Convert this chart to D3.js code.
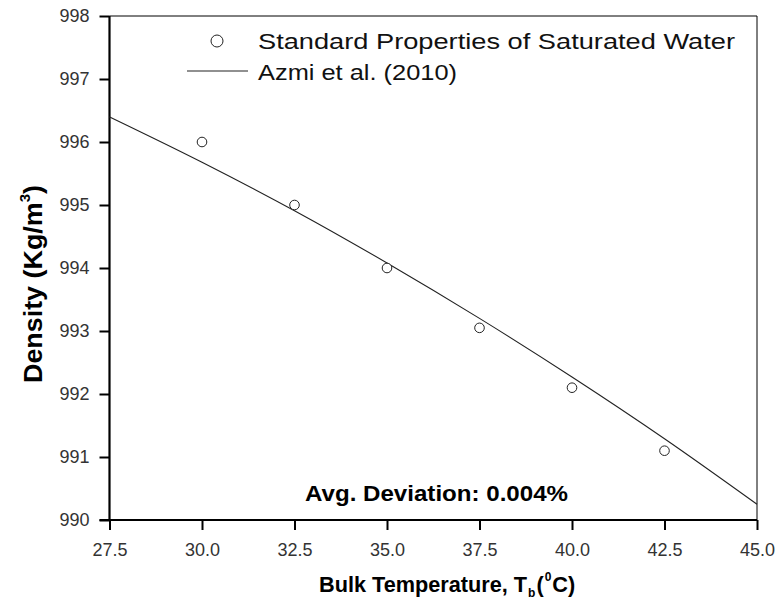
<!DOCTYPE html>
<html>
<head>
<meta charset="utf-8">
<script src="https://cdn.jsdelivr.net/npm/d3@7"></script>
<style>
  body { margin: 0; background: #fff; }
  svg { display: block; font-family: "Liberation Sans", Arial, sans-serif; }
</style>
</head>
<body>
<svg width="779" height="610"></svg>
<script>
const width = 779;
const height = 610;

// measured points (standard properties of saturated water)
const tempPoints = [30.0, 32.5, 35.0, 37.5, 40.0, 42.5];
const densityPoints = [996.0, 995.0, 994.0, 993.05, 992.1, 991.1];

// Azmi et al. (2010) correlation
const tempLine = [27.5, 30.0, 32.5, 35.0, 37.5, 40.0, 42.5, 45.0];
const densityLine = [996.40, 995.68, 994.91, 994.08, 993.20, 992.27, 991.29, 990.25];

const xTicks = [27.5, 30.0, 32.5, 35.0, 37.5, 40.0, 42.5, 45.0];
const yTicks = [990, 991, 992, 993, 994, 995, 996, 997, 998];

const legendLabels = ['Standard Properties of Saturated Water', 'Azmi et al. (2010)'];

const svg = d3.select('svg');

const x = d3.scaleLinear().domain([27.5, 45]).range([109.5, 757]);
const y = d3.scaleLinear().domain([990, 998]).range([520, 16]);

// frame (top + right, thin)
svg.append('path')
  .attr('d', `M${x(27.5)},${y(998)}H${x(45)}V${y(990)}`)
  .attr('fill', 'none')
  .attr('stroke', '#000')
  .attr('stroke-width', 1);

// axes
const xAxis = svg.append('g')
  .attr('transform', `translate(0,${y(990)})`)
  .call(d3.axisBottom(x).tickValues(xTicks).tickSize(10).tickPadding(13)
    .tickFormat(d3.format('.1f')));

const yAxis = svg.append('g')
  .attr('transform', `translate(${x(27.5)},0)`)
  .call(d3.axisLeft(y).tickValues(yTicks).tickSize(10).tickPadding(10)
    .tickFormat(d3.format('d')));

[xAxis, yAxis].forEach(g => {
  g.select('.domain').attr('stroke', '#000').attr('stroke-width', 2.2);
  g.selectAll('.tick line').attr('stroke', '#000').attr('stroke-width', 2);
  g.selectAll('.tick text')
    .attr('font-family', '"Liberation Sans", Arial, sans-serif')
    .attr('font-size', 18)
    .attr('fill', '#333');
});
// plain domain lines (x axis reaches the 990 tick stub)
xAxis.select('.domain').attr('d', `M${x(27.5) - 10},0H${x(45)}`);
yAxis.select('.domain').attr('d', `M0,${y(998)}V${y(990)}`);

// correlation line
const line = d3.line()
  .x(d => x(d[0]))
  .y(d => y(d[1]))
  .curve(d3.curveMonotoneX);

svg.append('path')
  .datum(tempLine.map((t, i) => [t, densityLine[i]]))
  .attr('fill', 'none')
  .attr('stroke', '#222')
  .attr('stroke-width', 1.1)
  .attr('d', line);

// data circles
svg.selectAll('circle.pt')
  .data(tempPoints.map((t, i) => [t, densityPoints[i]]))
  .enter()
  .append('circle')
  .attr('class', 'pt')
  .attr('cx', d => x(d[0]))
  .attr('cy', d => y(d[1]))
  .attr('r', 4.8)
  .attr('fill', '#fff')
  .attr('stroke', '#222')
  .attr('stroke-width', 1);

// legend
svg.append('circle')
  .attr('cx', 217).attr('cy', 41).attr('r', 6)
  .attr('fill', '#fff').attr('stroke', '#222').attr('stroke-width', 1);
svg.append('line')
  .attr('x1', 187).attr('x2', 248).attr('y1', 71).attr('y2', 71)
  .attr('stroke', '#222').attr('stroke-width', 1.1);

svg.append('text')
  .attr('x', 258).attr('y', 49)
  .attr('font-size', 22)
  .attr('fill', '#111')
  .attr('textLength', 477).attr('lengthAdjust', 'spacingAndGlyphs')
  .text(legendLabels[0]);
svg.append('text')
  .attr('x', 258).attr('y', 80)
  .attr('font-size', 22)
  .attr('fill', '#111')
  .attr('textLength', 199).attr('lengthAdjust', 'spacingAndGlyphs')
  .text(legendLabels[1]);

// annotation
svg.append('text')
  .attr('x', 305).attr('y', 501)
  .attr('font-size', 22).attr('font-weight', 'bold')
  .attr('textLength', 263).attr('lengthAdjust', 'spacingAndGlyphs')
  .text('Avg. Deviation: 0.004%');

// x title, pieces laid out one after another
const xTitleParts = [
  { t: 'Bulk Temperature, T', size: 21.7, dy: 0 },
  { t: 'b', size: 12, dy: 5 },
  { t: '(', size: 21.7, dy: 0 },
  { t: '0', size: 12, dy: -11 },
  { t: 'C)', size: 21.7, dy: 0 }
];
let cx = 319;
xTitleParts.forEach(p => {
  const el = svg.append('text')
    .attr('x', cx).attr('y', 592 + p.dy)
    .attr('font-size', p.size).attr('font-weight', 'bold')
    .text(p.t);
  cx += el.node().getComputedTextLength() + 1;
});

// y title
const yt = svg.append('text')
  .attr('transform', 'translate(42,383) rotate(-90)')
  .attr('font-size', 25).attr('font-weight', 'bold')
  .attr('textLength', 198).attr('lengthAdjust', 'spacingAndGlyphs');
yt.append('tspan').text('Density (Kg/m');
yt.append('tspan').attr('font-size', 14).attr('dy', -12).text('3');
yt.append('tspan').attr('dy', 12).text(')');
</script>
</body>
</html>
